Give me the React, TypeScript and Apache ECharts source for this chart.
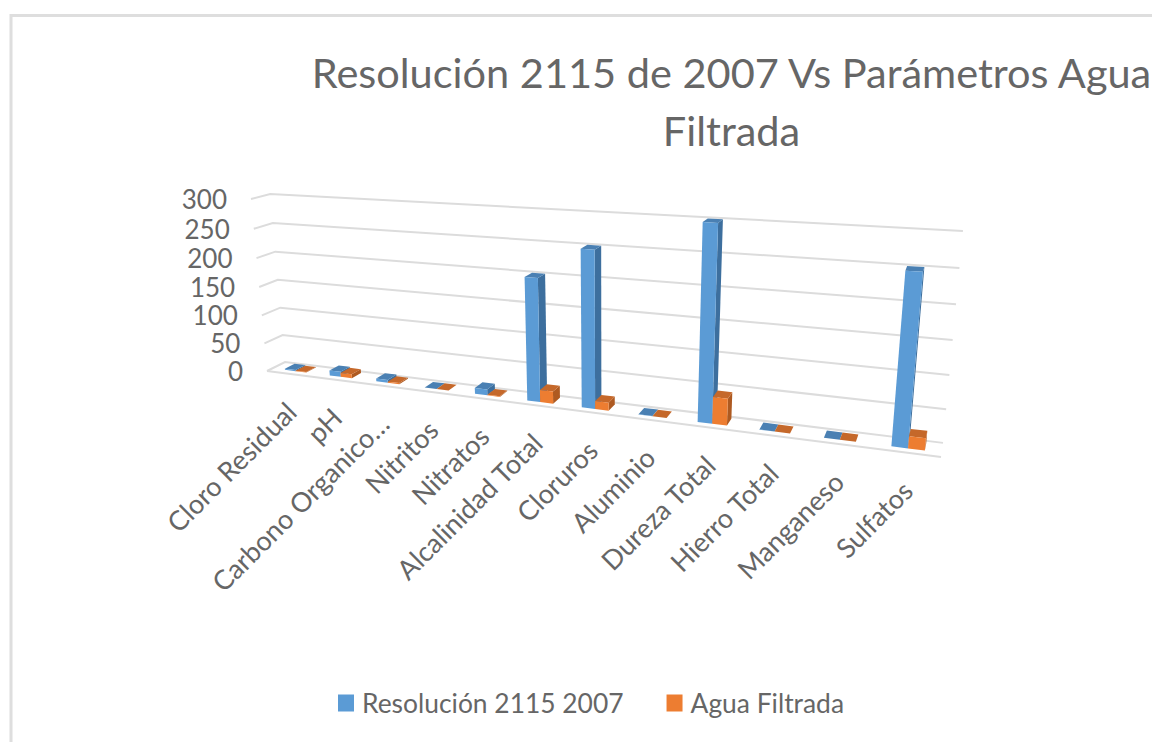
import React, { useEffect, useRef } from "react";
import * as echarts from "echarts";

const categories = ["Cloro Residual", "pH", "Carbono Organico…", "Nitritos", "Nitratos", "Alcalinidad Total", "Cloruros", "Aluminio", "Dureza Total", "Hierro Total", "Manganeso", "Sulfatos"];
const resolucion = [2, 9, 5, 0.1, 10, 200, 250, 0.2, 300, 0.3, 0.1, 250];
const aguaFiltrada = [0.8, 7, 2, 0.05, 1, 20, 13, 0.05, 42, 0.1, 0.05, 18];
const yTicks = [0, 50, 100, 150, 200, 250, 300];

// perspective of the plot box
const A = [267, 371], PU = [941, 457], PV = [251, 199], PD = [285, 362];
const AL = 0.78, BE = 0.955, GA = 1.025;
const project = (u: number, v: number, d: number) => {
  const w = 1 + (AL - 1) * u + (BE - 1) * v + (GA - 1) * d;
  const f = (k: number) => (A[k] + (AL * PU[k] - A[k]) * u + (BE * PV[k] - A[k]) * v + (GA * PD[k] - A[k]) * d) / w;
  return [f(0), f(1)];
};
const GRID = { left: 100, top: 100, width: 600, height: 300 };
const U = (px: number) => (px - GRID.left) / GRID.width;
const V = (py: number) => (GRID.top + GRID.height - py) / GRID.height;
const D1 = 0.3, D2 = 0.85, BAR = 0.24, SHIFT = 0.002;
const FONT = "Lato";
const TEXT = "#666666";

const barSeries = (name: string, values: number[], side: number, front: string, sideC: string, topC: string) => ({
  type: "custom",
  name,
  z: 3,
  itemStyle: { color: front },
  encode: { x: 0, y: 1 },
  data: values.map((v, i) => [i, v]),
  renderItem: (_: any, api: any) => {
    const i = api.value(0);
    const c = api.coord([i, api.value(1)]);
    const band = api.size([1, 0])[0] / GRID.width;
    const uc = U(c[0]) + SHIFT;
    const v = V(c[1]);
    const u0 = side < 0 ? uc - band * BAR : uc;
    const u1 = u0 + band * BAR;
    const poly = (points: number[][], fill: string) => ({ type: "polygon", shape: { points }, style: { fill } });
    return {
      type: "group",
      children: [
        poly([project(u1, 0, D1), project(u1, 0, D2), project(u1, v, D2), project(u1, v, D1)], sideC),
        poly([project(u0, v, D1), project(u1, v, D1), project(u1, v, D2), project(u0, v, D2)], topC),
        poly([project(u0, 0, D1), project(u1, 0, D1), project(u1, v, D1), project(u0, v, D1)], front),
      ],
    };
  },
});

export default function App() {
  const ref = useRef<HTMLDivElement>(null);
  useEffect(() => {
    const chart = echarts.init(ref.current!, undefined, { renderer: "svg" });
    chart.setOption({
      animation: false,
      backgroundColor: "#ffffff",
      title: {
        text: "Resolución 2115 de 2007 Vs Parámetros Agua\nFiltrada",
        left: 726.5,
        top: 38,
        textAlign: "center",
        textStyle: { fontFamily: FONT, fontSize: 41.5, fontWeight: "normal", color: TEXT, lineHeight: 58 },
      },
      legend: {
        data: ["Resolución 2115 2007", "Agua Filtrada"],
        left: 338,
        top: 690,
        padding: 0,
        icon: "rect",
        itemWidth: 16,
        itemHeight: 17,
        itemGap: 43,
        textStyle: { fontFamily: FONT, fontSize: 26.4, color: TEXT, padding: [0, 0, 0, 3] },
      },
      grid: { ...GRID, show: false },
      xAxis: { type: "category", data: categories, show: false },
      yAxis: { type: "value", min: 0, max: 300, interval: 50, show: false },
      graphic: [
        { type: "polyline", shape: { points: [[11, 742], [11, 15.5], [1152, 15.5]] }, style: { fill: "none", stroke: "#dedede", lineWidth: 3 } },
      ],
      series: [
        {
          type: "custom",
          z: 1,
          encode: { y: 1 },
          data: yTicks.map((t) => [0, t]),
          renderItem: (_: any, api: any) => {
            const v = V(api.coord([0, api.value(1)])[1]);
            const points = [project(0, v, 0), project(0, v, 1), project(1, v, 1)];
            const children: any[] = [
              { type: "polyline", shape: { points }, style: { fill: "none", stroke: "#dcdcdc", lineWidth: 2 } },
            ];
            if (v === 0) {
              children.push({ type: "line", shape: { x1: project(0, 0, 0)[0], y1: project(0, 0, 0)[1], x2: project(1, 0, 0)[0], y2: project(1, 0, 0)[1] }, style: { stroke: "#dcdcdc", lineWidth: 2 } });
            }
            const p = project(0, v, 0);
            children.push({ type: "text", x: p[0] - 24, y: p[1], style: { text: String(api.value(1)), fontFamily: FONT, fontSize: 26, lineHeight: 24, fill: TEXT, align: "right", verticalAlign: "middle" } });
            return { type: "group", children };
          },
        },
        barSeries("Resolución 2115 2007", resolucion, -1, "#5b9bd5", "#3d6f9e", "#4a80b3"),
        barSeries("Agua Filtrada", aguaFiltrada, 1, "#ed7d31", "#ae5a21", "#c5682a"),
        {
          type: "custom",
          z: 2,
          encode: { x: 0, y: 1 },
          data: categories.map((_, i) => [i, 0]),
          renderItem: (_: any, api: any) => {
            const i = api.value(0);
            const c = api.coord([i, 0]);
            const p = project(U(c[0]), 0, 0);
            return { type: "text", x: p[0] + 2, y: p[1] + 33, rotation: Math.PI / 4, style: { text: categories[i], fontFamily: FONT, fontSize: 27, fill: TEXT, align: "right", verticalAlign: "middle" } };
          },
        },
      ],
    });
    return () => chart.dispose();
  }, []);
  return <div ref={ref} style={{ position: "absolute", left: 0, top: 0, width: 1152, height: 742 }} />;
}
